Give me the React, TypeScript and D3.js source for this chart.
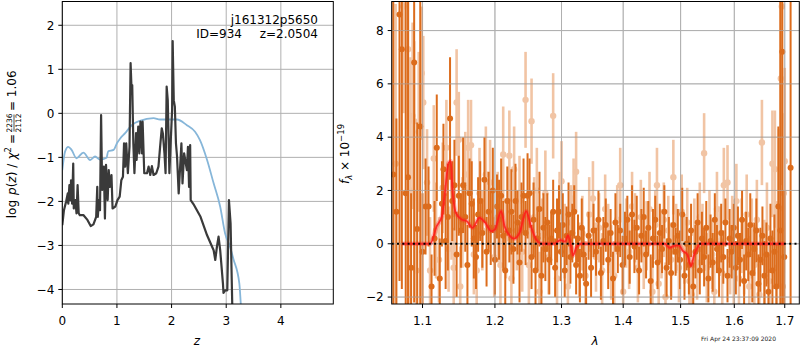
import React from 'react';
import * as d3 from 'd3';

// left panel: redshift PDF
const zTicks = [0, 1, 2, 3, 4];
const pzTicks = [-4, -3, -2, -1, 0, 1, 2];

const blackZ = [0, 0.03, 0.07, 0.1, 0.11, 0.13, 0.15, 0.16, 0.18, 0.2, 0.21, 0.24, 0.26, 0.28, 0.3, 0.32, 0.385, 0.46, 0.52, 0.57, 0.62, 0.64, 0.65, 0.67, 0.69, 0.71, 0.73, 0.76, 0.78, 0.8, 0.83, 0.85, 0.87, 0.9, 0.92, 0.97, 1.01, 1.05, 1.08, 1.11, 1.13, 1.15, 1.17, 1.2, 1.23, 1.25, 1.27, 1.28, 1.3, 1.32, 1.35, 1.36, 1.39, 1.41, 1.43, 1.46, 1.47, 1.5, 1.55, 1.58, 1.61, 1.64, 1.67, 1.72, 1.76, 1.79, 1.82, 1.84, 1.87, 1.89, 1.91, 1.93, 1.96, 1.98, 2.01, 2.02, 2.04, 2.06, 2.08, 2.1, 2.13, 2.16, 2.18, 2.2, 2.23, 2.25, 2.28, 2.3, 2.32, 2.34, 2.35, 2.4, 2.53, 2.65, 2.77, 2.8, 2.83, 2.86, 2.89, 2.94, 2.95, 2.98, 3.02, 3.05, 3.08, 3.11, 3.13];
const blackLogP = [-2.54, -2.2, -2.0, -1.82, -2.05, -1.63, -1.97, -1.52, -2.05, -1.14, -2.16, -1.97, -2.27, -1.63, -2.27, -2.31, -2.31, -2.42, -2.56, -2.52, -2.35, -1.67, -2.35, -1.97, -2.2, -0.04, -1.74, -1.21, -2.39, -1.17, -1.97, -1.29, -1.67, -1.4, -2.16, -2.12, -1.97, -1.89, -1.52, -1.44, -0.68, -1.21, -0.68, -1.36, -0.76, 1.14, 0.45, 0.64, -0.68, -1.36, -0.45, -1.06, -0.3, -0.91, -0.19, -0.91, -0.19, -1.36, -1.36, -1.21, -1.4, -1.2, -1.4, -1.36, -1.21, -0.76, -0.34, -0.45, -0.91, -1.36, 0.61, 0.3, -1.36, -0.76, 0.08, 1.64, 0.3, 0.15, -0.68, -0.98, -1.82, -1.14, -0.68, -1.59, -0.91, -1.06, -1.29, -0.76, -1.67, -0.72, -1.97, -2.06, -2.35, -2.77, -3.11, -3.33, -3.03, -2.8, -3.11, -3.86, -4.08, -4.02, -4.02, -1.97, -2.5, -4.32, -5.2];

const blueZ = [0, 0.05, 0.11, 0.17, 0.26, 0.385, 0.51, 0.6, 0.69, 0.81, 0.84, 0.94, 1.0, 1.06, 1.15, 1.27, 1.42, 1.67, 1.79, 2.1, 2.28, 2.43, 2.52, 2.65, 2.77, 2.89, 2.98, 3.07, 3.13, 3.24, 3.27];
const blueLogP = [-1.29, -0.87, -0.76, -0.83, -1.02, -0.89, -1.06, -0.98, -1.05, -1.01, -0.86, -0.83, -0.68, -0.57, -0.45, -0.27, -0.17, -0.11, -0.14, -0.14, -0.27, -0.42, -0.61, -1.06, -1.59, -2.12, -2.73, -3.03, -3.3, -3.86, -4.4];

// right panel: spectrum
const lamTicks = [1.1, 1.2, 1.3, 1.4, 1.5, 1.6, 1.7];
const fluxTicks = [-2, 0, 2, 4, 6, 8];

const darkLam = [1.062, 1.066, 1.070, 1.073, 1.078, 1.081, 1.085, 1.089, 1.093, 1.097, 1.100,
  1.104, 1.108, 1.112, 1.116, 1.119, 1.123, 1.126, 1.128, 1.131, 1.134, 1.137, 1.140, 1.143, 1.146, 1.149, 1.152, 1.155, 1.158, 1.161, 1.164, 1.167, 1.170, 1.173, 1.176, 1.179, 1.182, 1.185, 1.188, 1.191, 1.194, 1.197, 1.200,
  1.203, 1.206, 1.209, 1.212, 1.215, 1.218, 1.221, 1.224, 1.227, 1.230, 1.233, 1.236, 1.239, 1.242, 1.245, 1.248, 1.251, 1.254, 1.257, 1.260, 1.263, 1.266, 1.269, 1.272, 1.275, 1.278, 1.281, 1.284, 1.287, 1.290, 1.293, 1.296, 1.299,
  1.302, 1.305, 1.308, 1.311, 1.314, 1.317, 1.320, 1.323, 1.326, 1.329, 1.332, 1.335,
  1.339, 1.343, 1.347, 1.351, 1.355, 1.359, 1.363, 1.367, 1.371, 1.375, 1.379, 1.383, 1.387, 1.391, 1.395, 1.399, 1.403, 1.407, 1.411, 1.415, 1.419, 1.423, 1.427, 1.431, 1.435, 1.439, 1.443, 1.447, 1.451, 1.455, 1.459, 1.463, 1.467, 1.471, 1.475, 1.479, 1.483, 1.487, 1.491, 1.495, 1.499,
  1.503, 1.507, 1.511, 1.515, 1.519, 1.523, 1.527, 1.531, 1.535, 1.539, 1.543, 1.547, 1.551, 1.555, 1.559, 1.563, 1.567, 1.571, 1.575, 1.579, 1.583, 1.587, 1.591, 1.595, 1.599,
  1.603, 1.607, 1.611, 1.615, 1.619, 1.623, 1.627, 1.631, 1.635, 1.639, 1.643, 1.647, 1.651, 1.655, 1.659, 1.663, 1.667, 1.671, 1.675, 1.679, 1.683, 1.687, 1.691, 1.695, 1.699, 1.712];
const darkFlux = [2.6, 1.2, 8.6, 7.3, 1.9, 2.5, -0.9, 6.8, 0.55, 4.4, -0.3,
  1.4, 1.4, -1.6, 0.2, 3.6, -1.3, 1.5, 2.8, 0.1, 1.0, 4.7, 1.6, 2.2, -0.4, 1.8, 0.5, 2.2, 1.0, -0.8, 1.9, 1.5, 0.2, -0.5, 1.1, 1.6, 0.4, 2.4, -0.3, 1.2, 0.6, 2.0, -0.6,
  1.4, 0.9, 1.8, 0.3, -1.0, 1.6, 0.5, 1.2, -0.2, 1.6, 0.8, -0.7, 1.0, 1.8, 0.4, 1.8, 1.9, -0.5, 0.9, -1.0, 0.2, 1.3, -1.2, 0.6, -0.2, 0.8, -0.6, 0.2, 1.2, -0.9, 0.5, 1.2, -0.3,
  0.7, -1.0, 0.3, 1.1, -0.5, 0.4, 1.2, -0.8, 0.2, -1.2, 0.6, -0.4,
  -1.5, 0.3, -0.9, 0.5, -0.3, 0.9, -1.1, 0.1, 0.7, -0.6, 0.4, -1.3, 0.8, -0.2, 0.5, -0.8, 0.2, 0.9, -0.5, 1.1, -0.1, 0.6, -1.0, 0.3, 1.0, -0.4, 0.6, -1.4, 0.2, 0.9, -0.7, 0.4, -0.2, 1.2, -0.9, 0.1, -1.1, 0.7, -0.3, 0.3, -0.6,
  1.1, -1.2, 0.0, -0.8, 0.5, -1.6, -0.3, 0.8, -1.0, 0.2, -0.5, 0.6, -1.3, 0.1, -0.7, 0.9, -0.2, -1.0, 0.4, -0.5, 0.8, -1.2, 0.2, -0.3, 0.6,
  -0.9, 0.3, -0.6, 0.9, -1.4, 0.1, -0.4, 0.7, -1.1, -0.2, 0.5, -1.5, -0.6, 0.3, -1.2, -0.4, -1.8, 0.2, -1.0, -0.3, -1.6, 1.4, 0.5, 7.2, -0.5, 2.85];
const darkErr = [9.5, 3.5, 10, 9, 8, 7, 2.8, 9, 4, 7.5, 2.2,
  1.8, 1.5, 1.2, 1.4, 2.0, 1.5, 1.6, 1.7, 1.8, 2.0, 2.3, 1.5, 1.7, 1.6, 1.5, 1.4, 1.8, 1.3, 1.5, 1.3, 1.6, 1.5, 1.2, 1.4, 1.5, 1.3, 1.6, 1.3, 1.5, 1.4, 1.6, 1.3,
  1.2, 1.5, 1.4, 1.3, 1.5, 1.3, 1.2, 1.6, 1.3, 1.4, 1.2, 1.5, 1.3, 1.4, 1.2, 1.6, 1.3, 1.2, 1.4, 1.3, 1.2, 1.4, 1.1, 1.3, 1.2, 1.1, 1.3, 1.0, 1.2, 1.1, 1.2, 1.0, 1.1,
  1.2, 1.0, 1.1, 1.2, 1.0, 1.1, 1.0, 1.1, 0.9, 1.0, 1.1, 1.0,
  1.0, 0.9, 1.1, 1.0, 0.9, 1.1, 1.0, 0.9, 1.0, 1.1, 0.9, 1.0, 1.1, 0.9, 1.0, 1.1, 1.0, 0.9, 1.0, 1.1, 1.0, 1.2, 0.9, 1.0, 1.1, 0.9, 1.0, 1.0, 1.1, 0.9, 1.0, 1.1, 0.9, 1.0, 1.1, 0.9, 1.0, 1.1, 0.9, 1.0, 1.1,
  1.0, 0.9, 1.0, 1.1, 1.0, 0.9, 1.0, 1.1, 0.9, 1.0, 1.1, 1.0, 0.9, 1.0, 1.1, 1.0, 0.9, 1.0, 1.1, 1.0, 0.9, 1.0, 1.1, 1.0, 0.9,
  1.0, 1.1, 1.0, 1.1, 1.0, 1.1, 1.0, 1.2, 1.1, 1.0, 1.2, 1.1, 1.2, 1.1, 1.3, 1.2, 1.4, 1.3, 1.5, 1.4, 1.6, 3.0, 9, 10, 2.5, 10];

const lightLam = [1.065, 1.075, 1.081, 1.084, 1.087, 1.089, 1.092, 1.095, 1.099, 1.101, 1.106, 1.110, 1.115, 1.118, 1.122, 1.127, 1.132, 1.135, 1.139, 1.142, 1.146, 1.149, 1.151, 1.154, 1.158, 1.162, 1.166, 1.170, 1.174, 1.178, 1.182, 1.187, 1.193, 1.199,
  1.204, 1.208, 1.212, 1.216, 1.221, 1.224, 1.228, 1.232, 1.236, 1.240, 1.245, 1.250, 1.254, 1.258, 1.262, 1.266, 1.270, 1.275, 1.280, 1.287, 1.293, 1.297, 1.300,
  1.305, 1.310, 1.315, 1.319, 1.323, 1.328, 1.333, 1.338, 1.344, 1.350, 1.355, 1.360, 1.365, 1.370, 1.375, 1.380, 1.385, 1.390, 1.395, 1.400,
  1.405, 1.410, 1.415, 1.420, 1.425, 1.430, 1.435, 1.440, 1.445, 1.450, 1.455, 1.458, 1.461, 1.466, 1.470, 1.473, 1.478, 1.483, 1.487, 1.492, 1.497,
  1.502, 1.507, 1.512, 1.516, 1.520, 1.525, 1.530, 1.535, 1.540, 1.543, 1.548, 1.553, 1.558, 1.562, 1.567, 1.572, 1.577, 1.580, 1.587, 1.592, 1.596, 1.599,
  1.604, 1.609, 1.614, 1.619, 1.624, 1.629, 1.634, 1.639, 1.644, 1.649, 1.654, 1.659, 1.664, 1.669, 1.675, 1.680, 1.684, 1.688, 1.692, 1.694, 1.696, 1.698, 1.700];
const lightFlux = [3.0, 8.9, 7.3, 2.0, 4.8, 4.6, -1.0, 4.2, 6.4, 5.3, 2.3, -1.0, 3.2, 0.5, -0.6, 2.1, 3.6, -0.2, 1.1, -0.9, 5.3, 3.9, -1.6, 0.8, 2.6, 3.6, 3.7, -0.4, -1.0, 1.9, 0.5, 2.6, 2.3, -0.5,
  1.0, -0.8, 3.35, 0.2, 3.3, -1.3, 2.8, 0.5, 1.6, -0.3, 5.4, -0.8, 4.6, 1.0, 2.0, -1.8, 0.3, 1.9, -0.5, 4.8, -1.3, 1.2, 2.35,
  0.1, -1.6, 0.8, 1.7, 2.7, -0.6, 0.4, -1.2, 1.1, 1.7, -0.5, 0.6, -1.0, 1.3, 0.2, -0.7, -1.2, 0.9, 2.2, -1.8,
  0.4, -0.3, 1.4, 0.6, -0.9, 1.0, -0.4, 0.3, 1.3, -1.8, 0.7, 2.2, -1.5, 0.0, 0.9, -2.0, 0.5, -0.6, 2.5, 0.2, -0.9,
  1.2, -0.2, 0.8, -1.4, -1.9, 0.4, -0.7, 1.0, 0.2, 3.4, -0.9, 0.6, -0.4, -1.8, 1.3, 0.1, -1.1, 2.2, 2.3, -0.6, 0.5, -0.9,
  1.6, -1.3, 0.3, -0.5, 1.1, -1.6, 0.2, -0.8, 0.9, -1.9, 3.8, -0.7, 0.6, -1.4, 3.0, 2.8, -0.9, 1.3, 6.2, 8.9, -1.6, 1.9, 3.1];
const lightErr = [6, 4, 3, 5, 3.5, 3, 3, 3, 2.5, 2.5, 2.0, 2.0, 2.0, 1.8, 1.6, 1.7, 1.8, 1.6, 1.7, 1.5, 2.0, 1.8, 1.5, 1.7, 1.6, 1.8, 1.7, 1.5, 1.6, 1.7, 1.5, 1.8, 1.6, 1.5,
  1.7, 1.6, 1.8, 1.5, 1.7, 1.6, 1.6, 1.5, 1.7, 1.5, 1.8, 1.6, 1.6, 1.5, 1.6, 1.5, 1.4, 1.6, 1.4, 1.6, 1.5, 1.5, 1.5,
  1.4, 1.5, 1.4, 1.5, 1.5, 1.4, 1.4, 1.3, 1.4, 1.4, 1.3, 1.3, 1.4, 1.3, 1.3, 1.4, 1.3, 1.3, 1.4, 1.3,
  1.3, 1.4, 1.3, 1.3, 1.3, 1.4, 1.3, 1.3, 1.4, 1.3, 1.3, 1.4, 1.3, 1.3, 1.4, 1.3, 1.3, 1.4, 1.4, 1.3, 1.3,
  1.4, 1.3, 1.3, 1.4, 1.3, 1.3, 1.4, 1.3, 1.3, 1.5, 1.3, 1.4, 1.3, 1.3, 1.4, 1.3, 1.3, 1.4, 1.4, 1.3, 1.3, 1.4,
  1.4, 1.3, 1.4, 1.4, 1.5, 1.4, 1.5, 1.5, 1.5, 1.5, 1.6, 1.6, 1.7, 1.7, 2.0, 2.2, 2.5, 3, 4, 5, 3, 3, 3.5];

const modelLam = [1.073, 1.110, 1.119, 1.126, 1.130, 1.135, 1.138, 1.140, 1.145, 1.153, 1.160, 1.168, 1.178, 1.186, 1.195, 1.200, 1.209, 1.214, 1.222, 1.228, 1.236, 1.246, 1.253, 1.261, 1.270, 1.289, 1.298, 1.306, 1.310, 1.315, 1.318, 1.323, 1.331, 1.472, 1.480, 1.487, 1.497, 1.504, 1.512, 1.519, 1.524, 1.532, 1.536, 1.700];
const modelFlux = [0, 0, 0.66, 1.04, 1.91, 3.03, 3.1, 2.16, 1.16, 0.91, 0.85, 0.6, 0.97, 0.79, 0.47, 0.54, 1.22, 0.66, 0.29, 0.19, 0.41, 1.22, 0.66, 0.16, 0, 0, 0.14, 0.08, 0.31, -0.09, -0.44, -0.15, 0, 0, -0.15, -0.09, -0.06, -0.27, -0.4, -0.84, -0.46, -0.09, 0, 0];

const FONT = 'DejaVu Sans, sans-serif';
const ORANGE = '#dc6c1c';
const GRID = '#b0b0b0';

const fmt = (t: number) => (t < 0 ? '\u2212' + Math.abs(t) : String(t));

export default function App() {
  // left panel scales
  const xz = d3.scaleLinear().domain([0, 4.96]).range([62.3, 333.3]);
  const yp = d3.scaleLinear().domain([-4.33, 2.54]).range([304, 1.5]);
  // right panel scales (log wavelength axis)
  const xl = d3.scaleLog().domain([1.06, 1.73]).range([391.7, 799.3]);
  const yf = d3.scaleLinear().domain([-2.26, 9.09]).range([304, 1.5]);

  const pzLine = d3.line<number>().x((_, i) => xz(blackZ[i])).y((d) => yp(d));
  const blueLine = d3.line<number>().x((_, i) => xz(blueZ[i])).y((d) => yp(d)).curve(d3.curveMonotoneX);
  const modelLine = d3.line<number>().x((_, i) => xl(modelLam[i])).y((d) => yf(d)).curve(d3.curveMonotoneX);

  const [lx0, lx1] = xz.range();
  const [ly1, ly0] = yp.range();
  const [rx0, rx1] = xl.range();
  const [ry1, ry0] = yf.range();

  return (
    <svg width={800} height={350} style={{ position: 'absolute', left: 0, top: 0, background: '#fff' }} fontFamily={FONT}>
      <defs>
        <clipPath id="clipL"><rect x={lx0} y={ly0} width={lx1 - lx0} height={ly1 - ly0} /></clipPath>
        <clipPath id="clipR"><rect x={rx0} y={ry0} width={rx1 - rx0} height={ry1 - ry0} /></clipPath>
      </defs>
      <rect width={800} height={350} fill="#fff" />

      {/* ---------- left panel ---------- */}
      <g>
        {zTicks.map((t) => (
          <line key={'gz' + t} x1={xz(t)} x2={xz(t)} y1={ly0} y2={ly1} stroke={GRID} strokeWidth={1} />
        ))}
        {pzTicks.map((t) => (
          <line key={'gp' + t} x1={lx0} x2={lx1} y1={yp(t)} y2={yp(t)} stroke={GRID} strokeWidth={1} />
        ))}
        <g clipPath="url(#clipL)">
          <path d={blueLine(blueLogP) || ''} fill="none" stroke="#86b6d9" strokeWidth={1.8} />
          <path d={pzLine(blackLogP) || ''} fill="none" stroke="#3a3a3a" strokeWidth={2.2} strokeLinejoin="round" />
        </g>
        <rect x={lx0} y={ly0} width={lx1 - lx0} height={ly1 - ly0} fill="none" stroke="#000" strokeWidth={1} />
        {zTicks.map((t) => (
          <g key={'tz' + t}>
            <line x1={xz(t)} x2={xz(t)} y1={ly1} y2={ly1 + 4} stroke="#000" />
            <text x={xz(t)} y={325} fontSize={12} textAnchor="middle">{fmt(t)}</text>
          </g>
        ))}
        {pzTicks.map((t) => (
          <g key={'tp' + t}>
            <line x1={lx0 - 4} x2={lx0} y1={yp(t)} y2={yp(t)} stroke="#000" />
            <text x={lx0 - 8} y={yp(t) + 4.3} fontSize={12} textAnchor="end">{fmt(t)}</text>
          </g>
        ))}
        <text x={318} y={24} fontSize={12} textAnchor="end">j161312p5650</text>
        <text x={242} y={38} fontSize={12} textAnchor="end">ID=934</text>
        <text x={318} y={38} fontSize={12} textAnchor="end">z=2.0504</text>
        <text x={197} y={345} fontSize={12} fontStyle="italic" textAnchor="middle">z</text>
        <g transform="translate(12,153) rotate(-90)">
          <text x={19} y={4} fontSize={12} textAnchor="end">
            <tspan>log</tspan>
            <tspan fontStyle="italic" dx={5}>p</tspan>
            <tspan>(</tspan>
            <tspan fontStyle="italic">z</tspan>
            <tspan>)</tspan>
            <tspan dx={4}>/</tspan>
            <tspan fontStyle="italic" dx={4}>χ</tspan>
            <tspan fontSize={8.5} dy={-5}>2</tspan>
            <tspan dy={5} dx={3}>=</tspan>
          </text>
          <text x={30} y={0} fontSize={7.5} textAnchor="middle">2236</text>
          <line x1={21.5} x2={38.5} y1={2} y2={2} stroke="#000" strokeWidth={0.7} />
          <text x={30} y={9} fontSize={7.5} textAnchor="middle">2112</text>
          <text x={42} y={4} fontSize={12} textAnchor="start">= 1.06</text>
        </g>
      </g>

      {/* ---------- right panel ---------- */}
      <g>
        {lamTicks.map((t) => (
          <line key={'gl' + t} x1={xl(t)} x2={xl(t)} y1={ry0} y2={ry1} stroke={GRID} strokeWidth={1} />
        ))}
        {fluxTicks.map((t) => (
          <line key={'gf' + t} x1={rx0} x2={rx1} y1={yf(t)} y2={yf(t)} stroke={GRID} strokeWidth={1} />
        ))}
        <g clipPath="url(#clipR)">
          <g opacity={0.4}>
            {lightLam.map((l, i) => (
              <g key={'lt' + i}>
                <line x1={xl(l)} x2={xl(l)} y1={yf(lightFlux[i] - lightErr[i])} y2={yf(lightFlux[i] + lightErr[i])} stroke={ORANGE} strokeWidth={2.6} />
                <circle cx={xl(l)} cy={yf(lightFlux[i])} r={3.2} fill={ORANGE} />
              </g>
            ))}
          </g>
          {darkLam.map((l, i) => (
            <g key={'dk' + i}>
              <line x1={xl(l)} x2={xl(l)} y1={yf(darkFlux[i] - darkErr[i])} y2={yf(darkFlux[i] + darkErr[i])} stroke={ORANGE} strokeWidth={2} />
              <circle cx={xl(l)} cy={yf(darkFlux[i])} r={3} fill={ORANGE} />
            </g>
          ))}
          {fluxTicks.map((t) => (
            <line key={'gf2' + t} x1={rx0} x2={rx1} y1={yf(t)} y2={yf(t)} stroke={GRID} strokeWidth={1} opacity={0.6} />
          ))}
          {lamTicks.map((t) => (
            <line key={'gl2' + t} x1={xl(t)} x2={xl(t)} y1={ry0} y2={ry1} stroke={GRID} strokeWidth={1} opacity={0.6} />
          ))}
          <path d={modelLine(modelFlux) || ''} fill="none" stroke="#ff2020" strokeWidth={4.5} opacity={0.3} />
          <path d={modelLine(modelFlux) || ''} fill="none" stroke="#ff1a1a" strokeWidth={1.8} opacity={0.85} />
          <line x1={rx0} x2={rx1} y1={yf(0)} y2={yf(0)} stroke="#000" strokeWidth={2} strokeDasharray="2,3.3" />
        </g>
        <rect x={rx0} y={ry0} width={rx1 - rx0} height={ry1 - ry0} fill="none" stroke="#000" strokeWidth={1} />
        {lamTicks.map((t) => (
          <g key={'tl' + t}>
            <line x1={xl(t)} x2={xl(t)} y1={ry1} y2={ry1 + 4} stroke="#000" />
            <text x={xl(t)} y={325} fontSize={12} textAnchor="middle">{t.toFixed(1)}</text>
          </g>
        ))}
        {fluxTicks.map((t) => (
          <g key={'tf' + t}>
            <line x1={rx0 - 4} x2={rx0} y1={yf(t)} y2={yf(t)} stroke="#000" />
            <text x={rx0 - 8} y={yf(t) + 4.3} fontSize={12} textAnchor="end">{fmt(t)}</text>
          </g>
        ))}
        <text x={595} y={345} fontSize={12} fontStyle="italic" textAnchor="middle">λ</text>
        <g transform="translate(345,154) rotate(-90)">
          <text x={0} y={4} fontSize={12} textAnchor="middle">
            <tspan fontStyle="italic">f</tspan>
            <tspan fontStyle="italic" fontSize={8.5} dy={3}>λ</tspan>
            <tspan dy={-3}> × 10</tspan>
            <tspan fontSize={8.5} dy={-5}>−19</tspan>
          </text>
        </g>
        <text x={701} y={341} fontSize={6} fill="#222">Fri Apr 24 23:37:09 2020</text>
      </g>
    </svg>
  );
}
